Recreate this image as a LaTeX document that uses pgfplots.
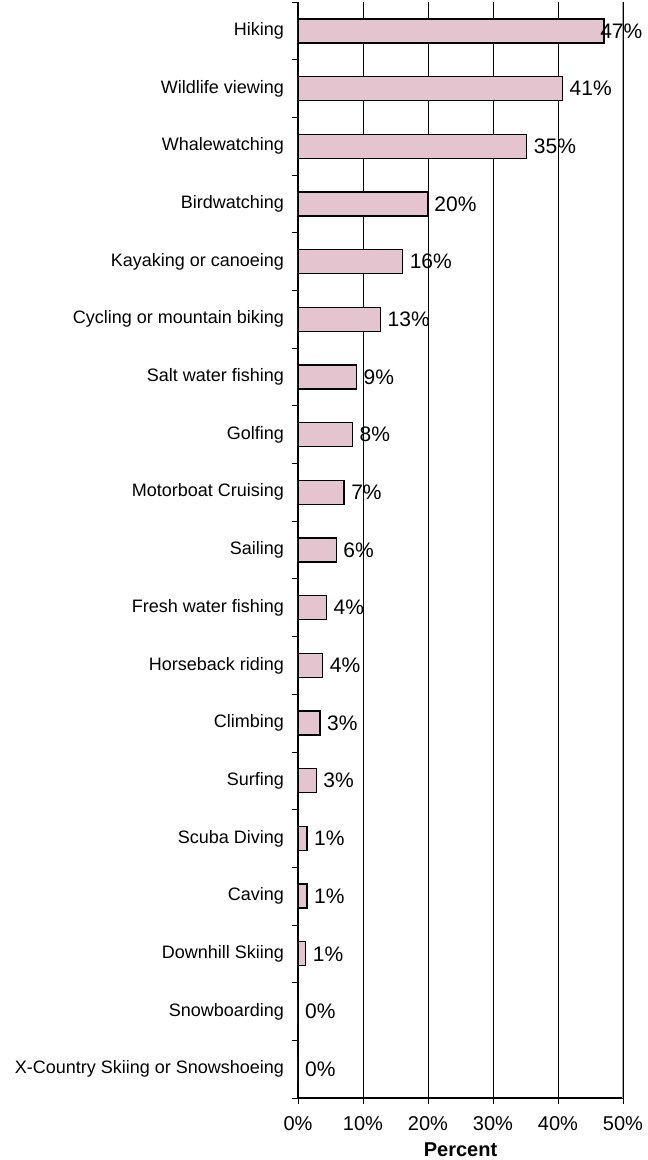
\documentclass[border=0pt]{standalone}
\usepackage{fontspec}
\setmainfont{Liberation Sans}
\usepackage{pgfplots}
\usepackage{pgfplotstable}
\pgfplotsset{compat=1.18}
\definecolor{BarPink}{HTML}{E4C4CE}

% y = row position (Hiking on top), val = percent, lab = printed label, dx = label nudge
\pgfplotstableread{
y  val  lab dx
18 47.1 47  -11
17 40.7 41  0
16 35.2 35  0
15 19.9 20  0
14 16.1 16  0
13 12.7 13  0
12 9.0  9   0
11 8.4  8   0
10 7.1  7   0
9  5.9  6   0
8  4.4  4   0
7  3.8  4   0
6  3.4  3   0
5  2.8  3   0
4  1.4  1   0
3  1.4  1   0
2  1.2  1   0
1  0    0   0
0  0    0   0
}\activities

\begin{document}
\begin{tikzpicture}
\path[use as bounding box] (-298pt,-62pt) rectangle (350pt,1098pt);
\begin{axis}[
  at={(0,0)},anchor=south west,
  scale only axis,width=325pt,height=1096pt,
  xbar,bar width=24pt,
  xmin=0,xmax=50,ymin=-0.5,ymax=18.5,
  xtick={0,10,...,50},
  xticklabels={0\%,10\%,20\%,30\%,40\%,50\%},
  ytick={0,...,18},
  yticklabels={X-Country Skiing or Snowshoeing,Snowboarding,Downhill Skiing,Caving,Scuba Diving,Surfing,Climbing,Horseback riding,Fresh water fishing,Sailing,Motorboat Cruising,Golfing,Salt water fishing,Cycling or mountain biking,Kayaking or canoeing,Birdwatching,Whalewatching,Wildlife viewing,Hiking},
  minor ytick={-0.5,0.5,...,18.5},
  axis x line*=bottom,axis y line*=left,
  axis line style={-,black,line width=1.1pt},
  tick align=outside,major tick length=5.5pt,minor tick length=5.5pt,
  major y tick style={draw=none},
  minor y tick style={black,line width=0.8pt},
  major x tick style={black,line width=0.8pt},
  xmajorgrids=true,grid style={black,line width=0.6pt},
  yticklabel style={font=\fontsize{18}{20}\selectfont,xshift=-5pt},
  xticklabel style={font=\fontsize{20}{22}\selectfont,yshift=-10pt},
  xlabel={\textbf{Percent}},
  xlabel style={font=\fontsize{20}{22}\selectfont,at={(axis description cs:0.5,0)},anchor=north,inner sep=0pt,yshift=-45pt},
  point meta=explicit symbolic,
  visualization depends on={\thisrow{dx}\as\dx},
  nodes near coords={\pgfplotspointmeta\%},
  nodes near coords align=horizontal,
  every node near coord/.append style={font=\fontsize{21}{24}\selectfont,black,anchor=west,inner xsep=6.5pt,xshift=\dx pt},
]
  \addplot[fill=BarPink,draw=black,line width=1.3pt] table[x=val,y=y,meta=lab] {\activities};
  \draw[gray!70,line width=1pt] (rel axis cs:1,0) -- (rel axis cs:1,1);
\end{axis}
\end{tikzpicture}
\end{document}
